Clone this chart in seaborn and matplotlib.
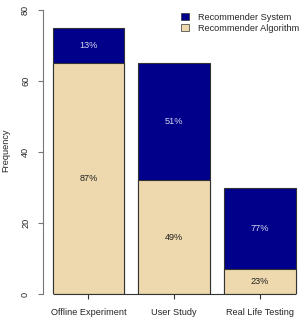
import matplotlib
matplotlib.use("Agg")
import matplotlib.pyplot as plt
import seaborn as sns
import pandas as pd
from matplotlib.patches import Patch

categories = ["Offline Experiment", "User Study", "Real Life Testing"]
algorithm = [65, 32, 7]
system = [10, 33, 23]
alg_pct = ["87%", "49%", "23%"]
sys_pct = ["13%", "51%", "77%"]
yticks = [0, 20, 40, 60, 80]

sns.set_style("white")
plt.rcParams["font.family"] = ["Liberation Sans", "DejaVu Sans"]

navy = "#00008B"
wheat = "#EDD9AD"
fs = 6.6

W, H = 302, 321
fig = plt.figure(figsize=(W / 100, H / 100), dpi=100)
ax = fig.add_axes([42.7 / W, (H - 294) / H, 259.3 / W, 284 / H])

totals = [a + s for a, s in zip(algorithm, system)]
df_tot = pd.DataFrame({"cat": categories, "val": totals})
df_alg = pd.DataFrame({"cat": categories, "val": algorithm})

bw = 1 / 1.2
sns.barplot(data=df_tot, x="cat", y="val", color=navy, width=bw,
            edgecolor="#333333", linewidth=0.8, saturation=1, ax=ax)
sns.barplot(data=df_alg, x="cat", y="val", color=wheat, width=bw,
            edgecolor="#333333", linewidth=0.8, saturation=1, ax=ax)

ax.set_xlim(-0.533, 2.489)
ax.set_ylim(0, 80)

for i in range(len(categories)):
    ax.text(i, algorithm[i] / 2, alg_pct[i], ha="center", va="center",
            fontsize=fs, color="#222222")
    ax.text(i, algorithm[i] + system[i] / 2, sys_pct[i], ha="center",
            va="center", fontsize=fs, color="#D8D8F0")

for s in ["top", "right", "bottom"]:
    ax.spines[s].set_visible(False)
ax.spines["left"].set_color("#777777")
ax.spines["left"].set_linewidth(0.8)
ax.spines["left"].set_bounds(0, 80)
ax.hlines(0, -bw / 2, 2 + bw / 2, color="#333333", linewidth=0.8, clip_on=False)

ax.set_yticks(yticks)
ax.set_yticklabels([str(v) for v in yticks], rotation=90, va="center",
                   fontsize=fs)
ax.tick_params(axis="y", left=True, length=3.6, width=0.8, color="#777777",
               pad=5.5)
ax.tick_params(axis="x", bottom=True, length=3.6, width=0.8, color="#333333",
               pad=6.5, labelsize=fs)
ax.set_xlabel("")
ax.set_ylabel("")
fig.text(6 / W, 1 - 150 / H, "Frequency", rotation=90, ha="center",
         va="center", fontsize=fs)

handles = [Patch(facecolor=navy, edgecolor="#333333", linewidth=0.5,
                 label="Recommender System"),
           Patch(facecolor=wheat, edgecolor="#333333", linewidth=0.5,
                 label="Recommender Algorithm")]
fig.legend(handles=handles, loc="upper left",
           bbox_to_anchor=(181 / W, 1 - 13 / H), frameon=False,
           fontsize=fs, handlelength=0.85, handleheight=0.85,
           handletextpad=1.0, labelspacing=0.2, borderpad=0,
           borderaxespad=0)

fig.savefig("out.png", dpi=100)
